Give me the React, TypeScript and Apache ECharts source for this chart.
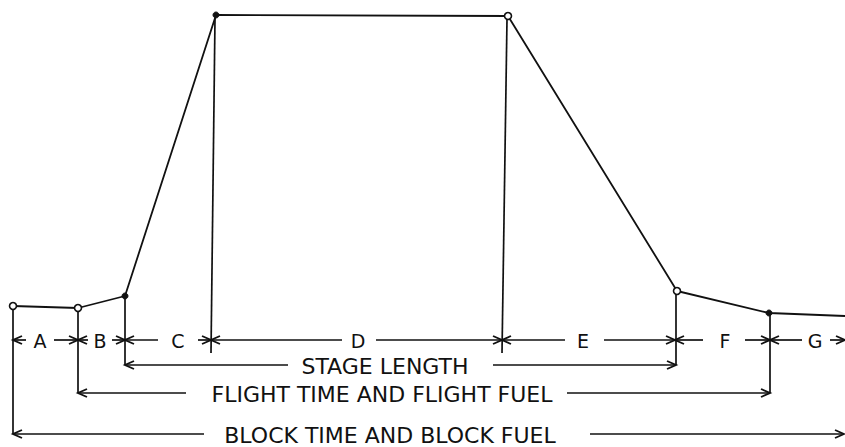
import React, { useEffect, useRef } from "react";
import * as echarts from "echarts";

// Flight profile (diagram units: x = time along the flight, y = height measured downward)
const profileX = [13, 78, 125, 216, 508, 677, 769, 845];
const profileY = [306, 308, 296, 15, 16, 291, 313, 316];
const profileMarker = ["open", "open", "filled", "filled", "open", "open", "filled", "none"];

// Segment row A..G
const segLabels = ["A", "B", "C", "D", "E", "F", "G"];
const segBounds = [13, 78, 125, 211, 502, 675, 770, 845];
const segLabelX = [40, 100, 178, 358, 583, 725, 815];
const segGapLeft = [26, 88, 158, 342, 565, 703, 802];
const segGapRight = [54, 112, 198, 376, 604, 745, 830];
const segRowY = 340;

// Spans
const spanTitles = ["STAGE LENGTH", "FLIGHT TIME AND FLIGHT FUEL", "BLOCK TIME AND BLOCK FUEL"];
const spanStart = [125, 78, 13];
const spanEnd = [676, 770, 844];
const spanY = [365, 393, 434];
const spanTextX = [385, 382, 390];
const spanGapLeft = [288, 186, 204];
const spanGapRight = [493, 567, 590];

// Leader (extension) lines
const leaderTopX = [13, 78, 125, 215, 507, 676, 770];
const leaderTopY = [308, 310, 298, 18, 19, 293, 315];
const leaderBottomX = [13, 78, 125, 211, 502, 676, 770];
const leaderBottomY = [434, 393, 365, 353, 353, 365, 393];

const INK = "#111111";
const FONT = "DejaVu Sans";

type Dim = { x1: number; x2: number; y: number; gl: number; gr: number; tx: number; text: string; size: number };

export default function App() {
  const ref = useRef<HTMLDivElement>(null);
  useEffect(() => {
    if (!ref.current) return;
    const chart = echarts.init(ref.current, null, { renderer: "svg" });

    const dims: Dim[] = [];
    for (let i = 0; i < segLabels.length; i++) {
      dims.push({
        x1: segBounds[i], x2: segBounds[i + 1], y: segRowY,
        gl: segGapLeft[i], gr: segGapRight[i], tx: segLabelX[i], text: segLabels[i], size: 19,
      });
    }
    for (let i = 0; i < spanTitles.length; i++) {
      dims.push({
        x1: spanStart[i], x2: spanEnd[i], y: spanY[i],
        gl: spanGapLeft[i], gr: spanGapRight[i], tx: spanTextX[i], text: spanTitles[i], size: 22,
      });
    }

    const profileData = profileX.map((x, i) => {
      const m = profileMarker[i];
      if (m === "none") return { value: [x, profileY[i]], symbol: "none" };
      return {
        value: [x, profileY[i]],
        symbol: "circle",
        symbolSize: m === "open" ? 7 : 6,
        itemStyle: m === "open"
          ? { color: "#fff", borderColor: INK, borderWidth: 1.6 }
          : { color: INK, borderColor: INK, borderWidth: 1 },
      };
    });

    const leaderData = leaderTopX.map((x, i) => [x, leaderTopY[i], leaderBottomX[i], leaderBottomY[i]]);
    const dimData = dims.map((d) => [d.x1, d.x2, d.y, d.gl, d.gr, d.tx]);

    const lineStyle = { stroke: INK, lineWidth: 1.7 };

    chart.setOption({
      animation: false,
      backgroundColor: "#ffffff",
      grid: { left: 0, right: 0, top: 0, bottom: 0 },
      xAxis: { type: "value", min: 0, max: 845, show: false },
      yAxis: { type: "value", min: 0, max: 447, inverse: true, show: false },
      series: [
        {
          type: "custom",
          name: "leaders",
          z: 1,
          data: leaderData,
          renderItem: (_p: any, api: any) => {
            const a = api.coord([api.value(0), api.value(1)]);
            const b = api.coord([api.value(2), api.value(3)]);
            return {
              type: "line",
              shape: { x1: a[0], y1: a[1], x2: b[0], y2: b[1] },
              style: { stroke: INK, lineWidth: 1.7 },
            };
          },
        },
        {
          type: "custom",
          name: "dimensions",
          z: 2,
          data: dimData,
          renderItem: (params: any, api: any) => {
            const d = dims[params.dataIndex];
            const y = api.coord([0, api.value(2)])[1];
            const x1 = api.coord([api.value(0), 0])[0];
            const x2 = api.coord([api.value(1), 0])[0];
            const gl = api.coord([api.value(3), 0])[0];
            const gr = api.coord([api.value(4), 0])[0];
            const tx = api.coord([api.value(5), 0])[0];
            const ah = 9, aw = 4;
            return {
              type: "group",
              children: [
                { type: "line", shape: { x1, y1: y, x2: gl, y2: y }, style: lineStyle },
                { type: "line", shape: { x1: gr, y1: y, x2, y2: y }, style: lineStyle },
                {
                  type: "polyline",
                  shape: { points: [[x1 + ah, y - aw], [x1, y], [x1 + ah, y + aw]] },
                  style: { stroke: INK, lineWidth: 1.9, fill: "none" },
                },
                {
                  type: "polyline",
                  shape: { points: [[x2 - ah, y - aw], [x2, y], [x2 - ah, y + aw]] },
                  style: { stroke: INK, lineWidth: 1.9, fill: "none" },
                },
                {
                  type: "text",
                  x: tx,
                  y: y + 1,
                  style: {
                    text: d.text,
                    fill: INK,
                    fontFamily: FONT,
                    fontSize: d.size,
                    fontWeight: "normal",
                    align: "center",
                    verticalAlign: "middle",
                  },
                },
              ],
            };
          },
        },
        {
          type: "line",
          name: "profile",
          z: 3,
          data: profileData,
          lineStyle: { color: INK, width: 1.8 },
          itemStyle: { color: INK },
          showAllSymbol: true,
        },
      ],
    });
    return () => chart.dispose();
  }, []);
  return (
    <div
      ref={ref}
      style={{ position: "fixed", left: 0, top: 0, width: 845, height: 447, background: "#fff" }}
    />
  );
}
